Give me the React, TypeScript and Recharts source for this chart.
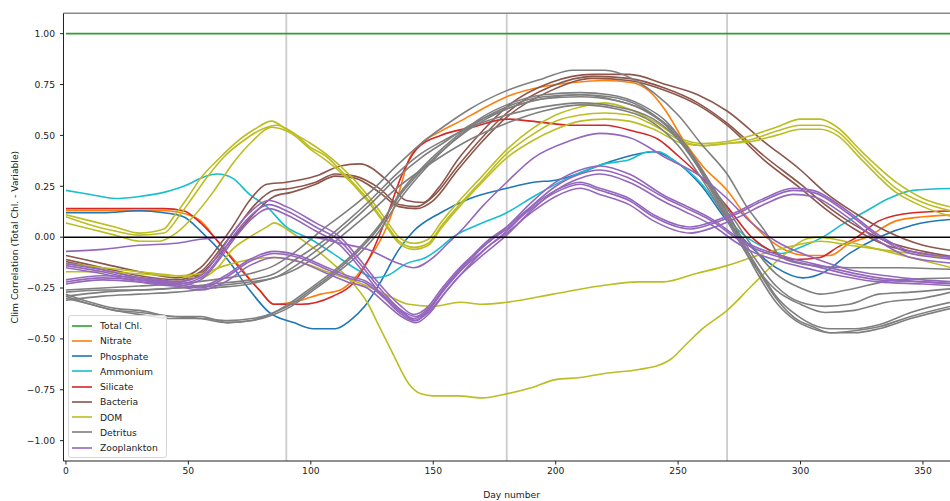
import { LineChart, Line, XAxis, YAxis, ReferenceLine, Legend } from "recharts";

type Pt = [number, number];

// x ticks / y ticks
const dayTicks = [0, 50, 100, 150, 200, 250, 300, 350];
const corrTicks = [-1, -0.75, -0.5, -0.25, 0, 0.25, 0.5, 0.75, 1];
const seasonDays = [90, 180, 270];

// series: [day, correlation]
const totalChl: Pt[] = [[0, 1], [365, 1]];

const nitrate: Pt[] = [[0,0.13],[20,0.13],[40,0.13],[50,0.11],[55,0.08],[62,-0.02],[70,-0.13],[79,-0.26],[85,-0.33],[96,-0.31],[104,-0.28],[112,-0.26],[118,-0.2],[123,-0.12],[131,0.05],[136,0.22],[140,0.38],[145,0.46],[153,0.52],[161,0.57],[170,0.63],[180,0.69],[195,0.74],[207,0.76],[220,0.77],[231,0.76],[238,0.72],[245,0.62],[252,0.48],[260,0.35],[270,0.23],[278,0.1],[286,0.0],[295,-0.07],[303,-0.09],[312,-0.09],[320,-0.03],[327,0.0],[339,0.08],[350,0.1],[365,0.11]];

const phosphate: Pt[] = [[0,0.12],[15,0.12],[30,0.13],[40,0.12],[48,0.1],[55,0.03],[66,-0.11],[75,-0.26],[83,-0.37],[93,-0.42],[101,-0.45],[110,-0.45],[116,-0.41],[122,-0.34],[128,-0.23],[136,-0.06],[142,0.03],[153,0.12],[165,0.19],[180,0.24],[191,0.27],[200,0.28],[211,0.32],[222,0.37],[234,0.41],[240,0.42],[248,0.38],[259,0.26],[270,0.08],[280,-0.05],[290,-0.15],[301,-0.2],[310,-0.17],[320,-0.08],[332,0.0],[346,0.06],[365,0.09]];

const ammonium: Pt[] = [[0,0.23],[10,0.21],[20,0.19],[30,0.2],[40,0.22],[50,0.26],[55,0.29],[62,0.31],[68,0.29],[75,0.21],[82,0.15],[90,0.05],[100,-0.01],[109,-0.08],[119,-0.16],[126,-0.2],[131,-0.19],[139,-0.13],[147,-0.1],[153,-0.05],[158,0.0],[168,0.06],[180,0.12],[191,0.2],[205,0.29],[220,0.36],[230,0.38],[238,0.42],[242,0.42],[248,0.38],[259,0.27],[268,0.13],[275,0.03],[285,-0.05],[292,-0.08],[300,-0.05],[309,0.0],[318,0.07],[327,0.13],[336,0.19],[346,0.23],[365,0.24]];

const silicate: Pt[] = [[0,0.14],[20,0.14],[40,0.14],[48,0.13],[55,0.07],[62,-0.02],[68,-0.11],[79,-0.26],[85,-0.33],[96,-0.33],[109,-0.29],[117,-0.23],[124,-0.1],[131,0.1],[137,0.3],[143,0.43],[153,0.5],[166,0.54],[180,0.58],[190,0.57],[207,0.55],[220,0.55],[232,0.52],[242,0.48],[250,0.4],[259,0.3],[270,0.15],[280,0.0],[290,-0.08],[298,-0.11],[308,-0.1],[315,-0.05],[323,0.0],[332,0.08],[346,0.12],[365,0.13]];

const bacteria1: Pt[] = [[0,-0.09],[15,-0.13],[30,-0.17],[45,-0.2],[55,-0.15],[62,-0.05],[68,0.05],[75,0.18],[82,0.26],[90,0.27],[102,0.3],[112,0.35],[120,0.36],[131,0.28],[139,0.18],[146,0.17],[152,0.24],[160,0.38],[170,0.52],[180,0.64],[198,0.76],[215,0.8],[230,0.8],[245,0.75],[258,0.7],[270,0.62],[285,0.47],[300,0.33],[310,0.22],[322,0.12],[335,0.03],[350,-0.04],[365,-0.07]];
const bacteria2: Pt[] = [[0,-0.11],[15,-0.15],[30,-0.19],[45,-0.21],[55,-0.17],[63,-0.06],[70,0.05],[78,0.17],[85,0.23],[92,0.24],[102,0.27],[110,0.31],[118,0.3],[128,0.24],[136,0.16],[143,0.15],[150,0.2],[160,0.35],[170,0.49],[180,0.61],[198,0.74],[215,0.79],[230,0.78],[245,0.73],[258,0.66],[270,0.56],[285,0.4],[300,0.26],[310,0.16],[322,0.06],[335,-0.02],[350,-0.07],[365,-0.1]];
const bacteria3: Pt[] = [[0,-0.12],[15,-0.16],[30,-0.2],[45,-0.22],[55,-0.18],[63,-0.08],[70,0.02],[78,0.13],[85,0.2],[92,0.22],[102,0.26],[110,0.3],[118,0.29],[128,0.22],[136,0.15],[143,0.14],[150,0.18],[160,0.33],[170,0.47],[180,0.59],[198,0.72],[215,0.78],[230,0.77],[245,0.72],[258,0.65],[270,0.55],[285,0.38],[300,0.24],[310,0.14],[322,0.04],[335,-0.04],[350,-0.08],[365,-0.11]];

const domUpper1: Pt[] = [[0,0.11],[10,0.08],[20,0.05],[30,0.02],[40,0.04],[44,0.1],[50,0.2],[55,0.29],[62,0.38],[68,0.45],[77,0.53],[84,0.57],[90,0.53],[100,0.46],[106,0.41],[112,0.35],[123,0.21],[131,0.08],[136,0.0],[142,-0.03],[148,-0.01],[153,0.07],[160,0.17],[170,0.3],[180,0.43],[190,0.53],[200,0.6],[210,0.64],[220,0.66],[230,0.63],[240,0.57],[252,0.48],[260,0.46],[270,0.47],[280,0.5],[290,0.54],[300,0.58],[308,0.58],[315,0.54],[325,0.42],[339,0.27],[350,0.19],[365,0.14]];
const domUpper2: Pt[] = [[0,0.1],[10,0.06],[20,0.03],[30,0.01],[40,0.02],[46,0.1],[52,0.2],[58,0.3],[65,0.4],[72,0.47],[80,0.53],[86,0.55],[92,0.52],[100,0.44],[106,0.4],[112,0.33],[123,0.19],[131,0.06],[136,-0.02],[142,-0.05],[148,-0.03],[153,0.05],[160,0.15],[170,0.28],[180,0.41],[190,0.5],[200,0.57],[210,0.6],[220,0.61],[230,0.6],[240,0.55],[252,0.47],[260,0.45],[270,0.46],[280,0.48],[290,0.52],[300,0.55],[308,0.55],[315,0.52],[325,0.4],[339,0.24],[350,0.17],[365,0.12]];
const domUpper3: Pt[] = [[0,0.07],[10,0.04],[20,0.01],[30,-0.02],[38,-0.02],[45,0.02],[52,0.1],[60,0.22],[68,0.36],[76,0.47],[84,0.54],[92,0.51],[100,0.43],[106,0.38],[112,0.32],[123,0.18],[131,0.05],[136,-0.03],[142,-0.06],[148,-0.04],[153,0.04],[160,0.14],[170,0.27],[180,0.39],[190,0.47],[200,0.53],[210,0.57],[220,0.58],[230,0.57],[240,0.53],[252,0.46],[260,0.45],[270,0.46],[280,0.47],[290,0.5],[300,0.53],[308,0.53],[315,0.5],[325,0.38],[339,0.22],[350,0.15],[365,0.09]];
const domDeep: Pt[] = [[0,-0.13],[15,-0.15],[30,-0.17],[45,-0.19],[55,-0.2],[62,-0.15],[68,-0.06],[75,0.0],[82,0.05],[85,0.07],[90,0.04],[96,-0.01],[103,-0.07],[109,-0.13],[116,-0.21],[123,-0.32],[128,-0.44],[133,-0.56],[140,-0.72],[145,-0.77],[150,-0.78],[160,-0.78],[170,-0.79],[180,-0.77],[190,-0.74],[200,-0.7],[210,-0.69],[220,-0.67],[234,-0.65],[242,-0.63],[247,-0.6],[253,-0.53],[260,-0.45],[270,-0.36],[280,-0.24],[292,-0.1],[302,-0.01],[307,0.0],[318,-0.02],[332,-0.06],[345,-0.1],[365,-0.16]];
const domMid: Pt[] = [[0,-0.17],[15,-0.17],[30,-0.18],[45,-0.19],[55,-0.18],[65,-0.14],[75,-0.11],[85,-0.1],[95,-0.12],[109,-0.18],[123,-0.24],[132,-0.29],[140,-0.33],[150,-0.34],[161,-0.32],[170,-0.33],[180,-0.32],[199,-0.28],[218,-0.24],[234,-0.22],[244,-0.22],[257,-0.18],[270,-0.14],[285,-0.08],[298,-0.04],[308,-0.02],[320,-0.04],[332,-0.06],[345,-0.08],[365,-0.11]];

const detritusTop: Pt[] = [[0,-0.26],[15,-0.25],[30,-0.24],[45,-0.23],[60,-0.21],[75,-0.18],[85,-0.14],[95,-0.06],[105,0.04],[115,0.13],[125,0.23],[135,0.35],[145,0.46],[155,0.55],[165,0.63],[180,0.72],[195,0.78],[207,0.82],[220,0.82],[231,0.78],[240,0.71],[250,0.6],[260,0.45],[270,0.31],[278,0.15],[286,0.02],[292,-0.1],[305,-0.14],[320,-0.15],[340,-0.15],[365,-0.16]];
const detritusLow1: Pt[] = [[0,-0.28],[10,-0.32],[20,-0.35],[30,-0.36],[44,-0.39],[55,-0.39],[66,-0.42],[76,-0.41],[85,-0.37],[92,-0.33],[100,-0.26],[109,-0.18],[120,-0.06],[128,0.05],[136,0.21],[147,0.36],[158,0.48],[170,0.59],[180,0.65],[195,0.7],[210,0.71],[222,0.7],[235,0.65],[245,0.57],[255,0.42],[263,0.27],[272,0.08],[282,-0.15],[290,-0.3],[298,-0.4],[305,-0.44],[312,-0.47],[322,-0.46],[332,-0.44],[345,-0.39],[365,-0.33]];
const detritusLow2: Pt[] = [[0,-0.29],[10,-0.33],[20,-0.36],[30,-0.37],[44,-0.39],[55,-0.4],[66,-0.42],[76,-0.41],[85,-0.38],[92,-0.34],[100,-0.27],[109,-0.19],[120,-0.08],[128,0.03],[136,0.18],[147,0.34],[158,0.47],[170,0.58],[180,0.64],[195,0.69],[210,0.7],[222,0.69],[235,0.64],[245,0.55],[255,0.4],[263,0.25],[272,0.06],[282,-0.17],[290,-0.32],[298,-0.41],[305,-0.45],[312,-0.47],[322,-0.47],[332,-0.45],[345,-0.4],[365,-0.34]];
const detritusLow3: Pt[] = [[0,-0.3],[10,-0.33],[20,-0.36],[30,-0.38],[44,-0.4],[55,-0.4],[66,-0.41],[76,-0.4],[85,-0.37],[92,-0.32],[100,-0.25],[109,-0.17],[120,-0.05],[128,0.06],[136,0.2],[147,0.35],[158,0.47],[170,0.57],[180,0.63],[195,0.68],[210,0.7],[222,0.68],[235,0.63],[245,0.55],[255,0.41],[263,0.24],[272,0.05],[282,-0.14],[290,-0.29],[298,-0.38],[305,-0.43],[312,-0.45],[322,-0.45],[332,-0.43],[345,-0.37],[365,-0.31]];
const detritusMidA: Pt[] = [[0,-0.27],[15,-0.26],[30,-0.26],[45,-0.25],[60,-0.23],[75,-0.21],[85,-0.18],[95,-0.1],[105,-0.02],[115,0.08],[125,0.19],[135,0.31],[145,0.41],[155,0.48],[165,0.54],[180,0.6],[195,0.64],[210,0.66],[225,0.64],[240,0.58],[250,0.48],[260,0.32],[270,0.14],[280,-0.04],[290,-0.18],[300,-0.25],[308,-0.28],[319,-0.26],[339,-0.21],[365,-0.2]];
const detritusMidB: Pt[] = [[0,-0.29],[15,-0.27],[30,-0.26],[45,-0.25],[60,-0.24],[75,-0.22],[85,-0.2],[95,-0.13],[105,-0.04],[115,0.06],[125,0.17],[135,0.29],[145,0.39],[155,0.47],[165,0.55],[180,0.63],[195,0.68],[210,0.69],[225,0.67],[240,0.6],[250,0.5],[260,0.32],[270,0.12],[280,-0.08],[290,-0.24],[300,-0.32],[310,-0.34],[320,-0.33],[332,-0.28],[345,-0.27],[365,-0.25]];
const detritusMidC: Pt[] = [[0,-0.31],[15,-0.29],[30,-0.28],[45,-0.27],[60,-0.25],[75,-0.23],[85,-0.2],[95,-0.15],[105,-0.07],[115,0.03],[125,0.13],[135,0.24],[145,0.33],[155,0.41],[165,0.48],[180,0.56],[195,0.62],[210,0.65],[225,0.63],[240,0.56],[250,0.45],[260,0.28],[270,0.08],[280,-0.12],[290,-0.26],[300,-0.33],[310,-0.37],[322,-0.36],[335,-0.32],[350,-0.3],[365,-0.26]];

const zooTop: Pt[] = [[0,-0.07],[15,-0.06],[30,-0.04],[45,-0.03],[55,-0.01],[68,0.0],[85,0.0],[100,0.0],[112,-0.03],[123,-0.06],[136,-0.13],[142,-0.15],[150,-0.1],[156,-0.03],[162,0.04],[170,0.15],[180,0.27],[191,0.39],[205,0.47],[218,0.51],[230,0.49],[245,0.39],[259,0.3],[270,0.19],[280,0.07],[290,-0.02],[305,-0.1],[320,-0.16],[335,-0.19],[350,-0.21],[365,-0.22]];
const zooB1: Pt[] = [[0,-0.13],[15,-0.16],[30,-0.2],[45,-0.22],[55,-0.19],[62,-0.09],[68,0.02],[75,0.12],[83,0.18],[90,0.15],[102,0.07],[112,0.0],[120,-0.11],[128,-0.23],[136,-0.33],[142,-0.38],[148,-0.34],[153,-0.26],[160,-0.16],[170,-0.05],[180,0.05],[190,0.17],[200,0.27],[210,0.33],[218,0.35],[230,0.31],[245,0.2],[252,0.16],[265,0.08],[273,0.01],[280,-0.04],[292,-0.09],[305,-0.13],[332,-0.2],[350,-0.22],[365,-0.23]];
const zooB2: Pt[] = [[0,-0.14],[15,-0.17],[30,-0.21],[45,-0.23],[55,-0.2],[62,-0.11],[68,0.0],[75,0.1],[83,0.16],[90,0.13],[102,0.05],[112,-0.02],[120,-0.13],[128,-0.25],[136,-0.35],[142,-0.4],[148,-0.36],[153,-0.28],[160,-0.18],[170,-0.07],[180,0.03],[190,0.15],[200,0.25],[210,0.31],[218,0.33],[230,0.29],[245,0.19],[252,0.15],[265,0.07],[273,0.0],[280,-0.05],[292,-0.1],[305,-0.14],[332,-0.21],[350,-0.22],[365,-0.23]];
const zooB3: Pt[] = [[0,-0.15],[15,-0.18],[30,-0.22],[45,-0.24],[55,-0.21],[62,-0.12],[68,-0.02],[75,0.08],[83,0.14],[90,0.11],[102,0.03],[112,-0.04],[120,-0.15],[128,-0.27],[136,-0.37],[142,-0.41],[148,-0.37],[153,-0.3],[160,-0.2],[170,-0.09],[180,0.01],[190,0.13],[200,0.23],[210,0.29],[218,0.31],[230,0.27],[245,0.17],[252,0.13],[265,0.05],[273,-0.02],[280,-0.07],[292,-0.12],[305,-0.16],[332,-0.22],[350,-0.23],[365,-0.24]];
const zooC1: Pt[] = [[0,-0.21],[15,-0.19],[30,-0.2],[45,-0.22],[55,-0.24],[65,-0.19],[75,-0.11],[85,-0.07],[95,-0.09],[105,-0.14],[115,-0.19],[123,-0.22],[130,-0.29],[137,-0.36],[143,-0.39],[148,-0.35],[155,-0.24],[163,-0.13],[172,-0.02],[180,0.05],[190,0.15],[200,0.23],[210,0.27],[218,0.24],[230,0.19],[240,0.11],[255,0.05],[265,0.08],[275,0.13],[285,0.19],[297,0.24],[305,0.23],[319,0.13],[332,0.01],[345,-0.07],[365,-0.1]];
const zooC2: Pt[] = [[0,-0.22],[15,-0.2],[30,-0.21],[45,-0.23],[55,-0.25],[65,-0.2],[75,-0.12],[85,-0.08],[95,-0.1],[105,-0.15],[115,-0.2],[123,-0.23],[130,-0.3],[137,-0.37],[143,-0.41],[148,-0.36],[155,-0.25],[163,-0.14],[172,-0.03],[180,0.04],[190,0.14],[200,0.22],[210,0.26],[218,0.23],[230,0.18],[240,0.1],[255,0.04],[265,0.07],[275,0.12],[285,0.18],[297,0.23],[305,0.22],[319,0.12],[332,0.0],[345,-0.08],[365,-0.11]];
const zooC3: Pt[] = [[0,-0.23],[15,-0.21],[30,-0.22],[45,-0.24],[55,-0.26],[65,-0.22],[75,-0.14],[85,-0.1],[95,-0.12],[105,-0.17],[115,-0.22],[123,-0.25],[130,-0.32],[137,-0.39],[143,-0.42],[148,-0.38],[155,-0.27],[163,-0.16],[172,-0.05],[180,0.02],[190,0.12],[200,0.2],[210,0.24],[218,0.21],[230,0.16],[240,0.08],[255,0.02],[265,0.05],[275,0.1],[285,0.16],[297,0.21],[305,0.2],[319,0.1],[332,-0.02],[345,-0.1],[365,-0.13]];

const variables = [
    { name: "Total Chl.", color: "#2ca02c", lines: [totalChl] },
    { name: "Nitrate", color: "#ff7f0e", lines: [nitrate] },
    { name: "Phosphate", color: "#1f77b4", lines: [phosphate] },
    { name: "Ammonium", color: "#17becf", lines: [ammonium] },
    { name: "Silicate", color: "#d62728", lines: [silicate] },
    { name: "Bacteria", color: "#8c564b", lines: [bacteria1, bacteria2, bacteria3] },
    { name: "DOM", color: "#bcbd22", lines: [domUpper1, domUpper2, domUpper3, domDeep, domMid] },
    { name: "Detritus", color: "#7f7f7f", lines: [detritusTop, detritusLow1, detritusLow2, detritusLow3, detritusMidA, detritusMidB, detritusMidC] },
    { name: "Zooplankton", color: "#9467bd", lines: [zooTop, zooB1, zooB2, zooB3, zooC1, zooC2, zooC3] },
];

const FONT = "'DejaVu Sans', sans-serif";
const TEXT = "#222";
const LINE_W = 1.6;

const toRows = (pts: Pt[]) => pts.map(([day, v]) => ({ day, v }));
const fmt = (v: number) => v.toFixed(2).replace("-", "\u2212");

function YTitle(props: any) {
    const vb = props.viewBox || { x: 13.5, y: 13, height: 448 };
    const cx = 15;
    const cy = vb.y + vb.height / 2;
    return (
        <text
            x={cx}
            y={cy}
            transform={`rotate(-90, ${cx}, ${cy})`}
            textAnchor="middle"
            dominantBaseline="central"
            fontSize={9.2}
            fontFamily={FONT}
            fill={TEXT}
        >
            Clim Correlation (Total Chl. - Variable)
        </text>
    );
}

function LegendBox() {
    return (
        <div
            style={{
                border: "1px solid #d6d6d6",
                borderRadius: 3,
                background: "rgba(255,255,255,0.8)",
                padding: "2px 8px 2px 3px",
                fontFamily: FONT,
                fontSize: 9.2,
                color: TEXT,
                boxSizing: "border-box",
                width: 99,
            }}
        >
            {variables.map((g) => (
                <div key={g.name} style={{ display: "flex", alignItems: "center", height: 15.25 }}>
                    <svg width={20} height={4} style={{ marginRight: 8 }}>
                        <line x1={0} y1={2} x2={20} y2={2} stroke={g.color} strokeWidth={LINE_W} />
                    </svg>
                    <span style={{ whiteSpace: "nowrap" }}>{g.name}</span>
                </div>
            ))}
        </div>
    );
}

export default function App() {
    return (
        <div
            style={{
                position: "absolute",
                left: 0,
                top: 0,
                width: 950,
                height: 501,
                overflow: "hidden",
                background: "#fff",
            }}
        >
            <LineChart width={1000} height={501} margin={{ top: 13.3, right: 40.3, bottom: 10, left: 13.5 }}>
                <XAxis
                    type="number"
                    dataKey="day"
                    domain={[-1, 365]}
                    ticks={dayTicks}
                    allowDataOverflow
                    height={30}
                    stroke={TEXT}
                    tickSize={3.5}
                    tickMargin={3}
                    tick={{ fill: TEXT, fontSize: 9.2, fontFamily: FONT }}
                    label={{ value: "Day number", position: "bottom", offset: 0, fill: TEXT, fontSize: 9.2, fontFamily: FONT }}
                />
                <YAxis
                    type="number"
                    domain={[-1.1, 1.1]}
                    ticks={corrTicks}
                    allowDataOverflow
                    width={50}
                    stroke={TEXT}
                    tickSize={3.5}
                    tickMargin={5}
                    tickFormatter={fmt}
                    tick={{ fill: TEXT, fontSize: 9.2, fontFamily: FONT }}
                    label={<YTitle />}
                />
                {seasonDays.map((d) => (
                    <ReferenceLine key={`v${d}`} x={d} stroke="#cccccc" strokeWidth={1.8} />
                ))}
                {variables.flatMap((g) =>
                    g.lines.map((pts, i) => (
                        <Line
                            key={`${g.name}-${i}`}
                            data={toRows(pts)}
                            dataKey="v"
                            type="monotone"
                            stroke={g.color}
                            strokeWidth={LINE_W}
                            dot={false}
                            activeDot={false}
                            legendType="none"
                            isAnimationActive={false}
                        />
                    ))
                )}
                <ReferenceLine y={0} stroke="#000" strokeWidth={1.5} />
                <ReferenceLine y={1.1} stroke="#8a8a8a" strokeWidth={1.6} />
                <Legend
                    layout="vertical"
                    align="center"
                    verticalAlign="middle"
                    content={<LegendBox />}
                    wrapperStyle={{ left: 68, top: 315, width: 99, height: 141 }}
                />
            </LineChart>
        </div>
    );
}
